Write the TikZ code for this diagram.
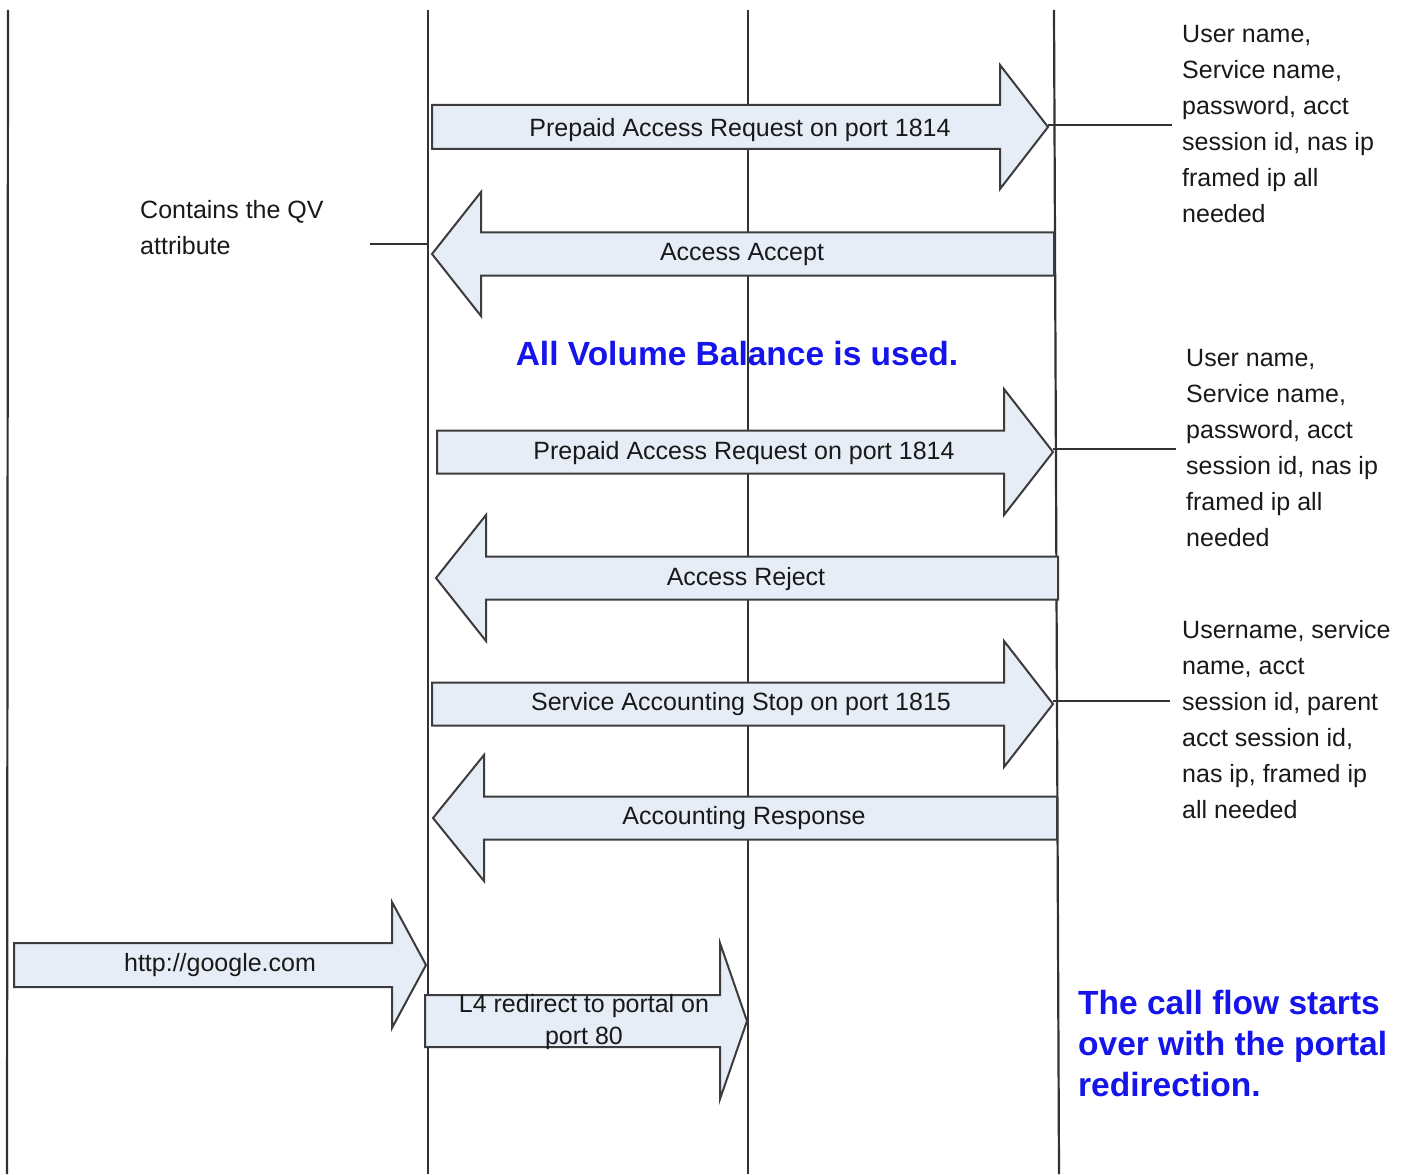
\documentclass[tikz,border=0pt]{standalone}
\usepackage{fontspec}
\setmainfont{Liberation Sans}
\definecolor{arrowfill}{RGB}{230,237,247}
\definecolor{arrowedge}{RGB}{60,60,60}
\definecolor{lifegray}{RGB}{50,50,50}
\definecolor{noteblue}{RGB}{20,20,235}
\tikzset{
  lifeline/.style={draw=lifegray, line width=2.2pt},
  blockarrow/.style={draw=arrowedge, fill=arrowfill, line width=2pt, line join=miter},
  msg/.style={inner sep=0pt, font=\fontsize{25}{36}\selectfont, text=black!90},
  note/.style={inner sep=0pt, anchor=north west, align=left,
               font=\fontsize{25}{36}\selectfont, text=black!90},
  bluenote/.style={inner sep=0pt, text=noteblue,
                   font=\fontsize{33.5}{41}\selectfont\bfseries},
  tieline/.style={draw=lifegray, line width=2.2pt},
}
% block arrow: name, tail x, head-base x, tip x, centre y, shaft half-height, head half-height
\newcommand{\blockarrow}[7]{%
  \draw[blockarrow] ({#2},{#5-#6}) -- ({#3},{#5-#6}) -- ({#3},{#5-#7}) -- ({#4},{#5})
    -- ({#3},{#5+#7}) -- ({#3},{#5+#6}) -- ({#2},{#5+#6}) -- cycle;
  \coordinate (#1-tip) at ({#4},{#5});
}
\begin{document}
\begin{tikzpicture}[x=1pt, y=-1pt]
\useasboundingbox[fill=white] (0,0) rectangle (1412,1174);

% lifelines
\draw[lifeline] (8,10) -- (7,1174);
\draw[lifeline] (428,10) -- (428,1174);
\draw[lifeline] (748,10) -- (748,1174);
\draw[lifeline] (1054,10) -- (1059,1174);

% notes
\node[note] (n1) at (1182,25) {User name,\\Service name,\\password, acct\\session id, nas ip\\framed ip all\\needed};
\node[note] (n2) at (1186,349) {User name,\\Service name,\\password, acct\\session id, nas ip\\framed ip all\\needed};
\node[note] (n3) at (1182,620) {Username, service\\name, acct\\session id, parent\\acct session id,\\nas ip, framed ip\\all needed};
\node[note] (qv) at (140,200) {Contains the QV\\attribute};

\coordinate (n1-end) at (1172,125);
\coordinate (n2-end) at (1176,449);
\coordinate (n3-end) at (1170,701);
\coordinate (qv-end) at (370,244);

% messages
\blockarrow{a1}{432}{1000}{1048}{127}{22}{62}
\blockarrow{a2}{1054}{481}{432}{254}{21.5}{62}
\blockarrow{a3}{437}{1004}{1053}{452}{21.5}{63}
\blockarrow{a4}{1058}{486}{436}{578}{21.5}{63}
\blockarrow{a5}{432}{1004}{1053}{704}{21.5}{63}
\blockarrow{a6}{1057}{484}{433}{818}{21.5}{63}
\blockarrow{a7}{14}{392}{426}{965}{22}{63}
\blockarrow{a8}{425}{720}{747}{1021}{26}{78}

% ties from messages to their notes
\draw[tieline] (a1-tip |- n1-end) -- (n1-end);
\draw[tieline] (a3-tip |- n2-end) -- (n2-end);
\draw[tieline] (a5-tip |- n3-end) -- (n3-end);
\draw[tieline] (qv-end) -- (428,244);

% message labels
\node[msg] (m1) at (740,130) {Prepaid Access Request on port 1814};
\node[msg] (m2) at (742,254) {Access Accept};
\node[msg] (m3) at (744,453) {Prepaid Access Request on port 1814};
\node[msg] (m4) at (746,579) {Access Reject};
\node[msg] (m5) at (741,704) {Service Accounting Stop on port 1815};
\node[msg] (m6) at (744,818) {Accounting Response};
\node[msg] (m7) at (220,965) {http://google.com};
\node[msg, align=center, font=\fontsize{25}{32}\selectfont] (m8) at (584,1022) {L4 redirect to portal on\\port 80};

% highlighted remarks
\node[bluenote] (vol) at (737,354) {All Volume Balance is used.};
\node[bluenote, anchor=north west, align=left] (over) at (1078,990) {The call flow starts\\over with the portal\\redirection.};
\end{tikzpicture}
\end{document}
